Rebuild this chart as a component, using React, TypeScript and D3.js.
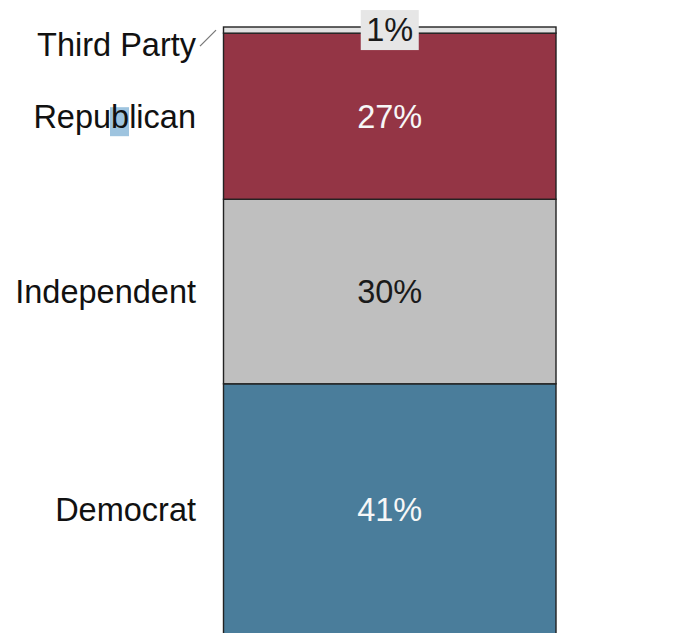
import { useMemo } from 'react'
import * as d3 from 'd3'

const PARTIES = ['Democrat', 'Independent', 'Republican', 'Third Party']
const SHARES = [41, 30, 27, 1]
const FILLS = ['#4a7d9b', '#bfbfbf', '#943545', '#e2e2e2']
const TEXT_COLORS = ['#f7f7f7', '#1a1a1a', '#f7f7f7', '#1a1a1a']

const WIDTH = 681
const HEIGHT = 633
const FONT = '"Liberation Sans", Arial, sans-serif'
const FONT_SIZE = 32.5

export default function App() {
  const row = useMemo(() => {
    const r: Record<string, number> = {}
    PARTIES.forEach((p, i) => (r[p] = SHARES[i]))
    return r
  }, [])

  const series = useMemo(() => d3.stack<Record<string, number>>().keys(PARTIES)([row]), [row])
  const total = d3.sum(SHARES)

  const x = d3.scaleBand().domain(['all']).range([223.5, 556]).padding(0)
  const y = d3.scaleLinear().domain([0, total]).range([636, 27])
  const cx = (x('all') ?? 0) + x.bandwidth() / 2

  return (
    <svg
      width={WIDTH}
      height={HEIGHT}
      style={{ position: 'absolute', top: 0, left: 0, display: 'block', background: '#fff' }}
      fontFamily={FONT}
    >
      <g>
        {series.map((s, i) => {
          const [y0, y1] = s[0]
          return (
            <rect
              key={s.key}
              x={x('all')}
              width={x.bandwidth()}
              y={y(y1)}
              height={y(y0) - y(y1)}
              fill={FILLS[i]}
              stroke="#222"
              strokeWidth={1.4}
            />
          )
        })}
      </g>

      {/* value labels */}
      <g fontSize={FONT_SIZE} textAnchor="middle">
        {series.map((s, i) => {
          const [y0, y1] = s[0]
          const my = (y(y0) + y(y1)) / 2
          const small = y(y0) - y(y1) < 30
          return (
            <g key={s.key}>
              {small ? (
                <rect x={cx - 29} y={my - 20} width={58} height={40} fill="#e6e6e6" />
              ) : null}
              <text x={cx} y={my} dy="0.35em" fill={TEXT_COLORS[i]}>
                {`${SHARES[i]}%`}
              </text>
            </g>
          )
        })}
      </g>

      {/* category labels */}
      <g fontSize={FONT_SIZE} textAnchor="end" fill="#111">
        {series.map((s, i) => {
          const [y0, y1] = s[0]
          const my = (y(y0) + y(y1)) / 2
          const small = y(y0) - y(y1) < 30
          const ly = small ? my + 15 : my
          return (
            <g key={s.key}>
              {PARTIES[i] === 'Republican' ? (
                <rect x={110} y={ly - 9} width={19} height={29} fill="#9ec4df" />
              ) : null}
              {small ? (
                <line x1={200} y1={ly + 1} x2={216} y2={my} stroke="#777" strokeWidth={1.2} />
              ) : null}
              <text x={196} y={ly} dy="0.35em">
                {PARTIES[i]}
              </text>
            </g>
          )
        })}
      </g>
    </svg>
  )
}
